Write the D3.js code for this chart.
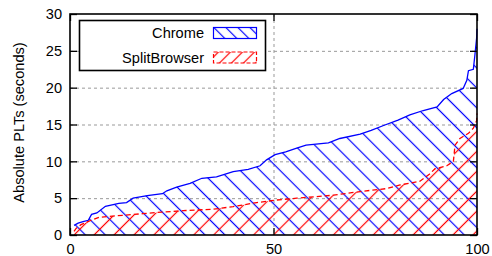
<!DOCTYPE html>
<html><head><meta charset="utf-8">
<script src="https://cdn.jsdelivr.net/npm/d3@7"></script>
<style>body{margin:0;background:#fff} text{font-family:"Liberation Sans",Arial,sans-serif;fill:#000}</style>
</head><body><svg id="c" width="492" height="256"></svg>
<script>
const xTicks = [0, 50, 100];
const yTicks = [0, 5, 10, 15, 20, 25, 30];
const gridY = [5, 10, 15, 20, 25];
const gridX = [50];
const seriesNames = ["Chrome", "SplitBrowser"];
const yLabel = "Absolute PLTs (seconds)";

const chromeX = [1, 2, 3.2, 4.5, 5.3, 6.6, 8.7, 12, 13.9, 15.5, 19, 22.7, 23.8, 26.2, 29.5, 32.4, 36, 40.1, 43.8, 46.7, 48.3, 50.4, 53, 55.7, 58, 63.5, 66.3, 71.3, 74, 77.2, 80.6, 83.5, 86.8, 90.2, 91.8, 93.8, 96.6, 97.5, 97.9, 99.1, 99.5, 99.9, 100];
const chromeY = [1.3, 1.6, 1.8, 2.0, 2.8, 3.0, 3.9, 4.3, 4.4, 5.0, 5.35, 5.6, 6.0, 6.5, 7.0, 7.7, 7.9, 8.6, 8.9, 9.4, 10.2, 10.9, 11.3, 11.8, 12.2, 12.5, 13.1, 13.7, 14.2, 14.9, 15.6, 16.3, 16.9, 17.4, 18.4, 19.2, 19.9, 21.0, 22.3, 22.5, 24.5, 26.7, 28];

const splitX = [1, 1.5, 2.7, 5.2, 7.2, 11.3, 17.9, 22.5, 27.8, 35.2, 40.1, 45.9, 50.8, 55.7, 60.2, 64.7, 71.3, 77.8, 81.1, 86, 88.2, 89.7, 92.6, 94.2, 94.6, 95.8, 97.9, 99.1, 99.9, 100];
const splitY = [0.5, 0.9, 1.4, 2.0, 2.4, 2.6, 2.9, 3.1, 3.3, 3.5, 3.85, 4.4, 4.75, 5.0, 5.2, 5.4, 5.9, 6.3, 6.8, 7.3, 8.2, 9.0, 9.4, 10.0, 12.2, 13.1, 13.8, 14.5, 15.5, 16.5];

const L = 70, R = 477, T = 14, B = 235;
const FS = "14.6px";
const svg = d3.select("#c");
const x = d3.scaleLinear().domain([0, 100]).range([L, R]);
const y = d3.scaleLinear().domain([0, 30]).range([B, T]);

const defs = svg.append("defs");
function hatch(id, color, angle, size) {
  const p = defs.append("pattern").attr("id", id).attr("patternUnits", "userSpaceOnUse")
    .attr("width", size).attr("height", size).attr("patternTransform", `rotate(${angle})`);
  p.append("line").attr("x1", size / 2).attr("x2", size / 2).attr("y1", -1).attr("y2", size + 1)
    .attr("stroke", color).attr("stroke-width", 1.2);
}
hatch("hb", "#0000ff", -45, 14.1);
hatch("hr", "#ff0000", 45, 14.1);
hatch("hbL", "#0000ff", -45, 8.5);
hatch("hrL", "#ff0000", 45, 8.5);

// grid
const g = svg.append("g");
g.selectAll(".gy").data(gridY).join("line")
  .attr("x1", L).attr("x2", R).attr("y1", d => y(d) + 0.5).attr("y2", d => y(d) + 0.5)
  .attr("stroke", "#999").attr("stroke-dasharray", "3,3");
g.selectAll(".gx").data(gridX).join("line")
  .attr("y1", T).attr("y2", B).attr("x1", d => x(d) + 0.5).attr("x2", d => x(d) + 0.5)
  .attr("stroke", "#999").attr("stroke-dasharray", "3,3");

const chrome = chromeX.map((v, i) => [v, chromeY[i]]);
const split = splitX.map((v, i) => [v, splitY[i]]);
const area = d3.area().x(d => x(d[0])).y0(y(0)).y1(d => y(d[1]));
const line = d3.line().x(d => x(d[0])).y(d => y(d[1]));

svg.append("path").attr("d", area(chrome)).attr("fill", "url(#hb)");
svg.append("path").attr("d", area(split)).attr("fill", "url(#hr)");
svg.append("path").attr("d", line(chrome)).attr("fill", "none").attr("stroke", "#0000ff").attr("stroke-width", 1.3);
svg.append("path").attr("d", line(split)).attr("fill", "none").attr("stroke", "#ff0000").attr("stroke-width", 1.3).attr("stroke-dasharray", "5,3");

// axes
function styleAxis(sel) {
  sel.select(".domain").remove();
  sel.selectAll("text").style("font-size", FS).style("font-family", "'Liberation Sans',Arial,sans-serif");
  sel.selectAll("line").attr("stroke", "#000").attr("stroke-width", 1.3);
}
svg.append("g").attr("transform", `translate(${L},0)`)
  .call(d3.axisLeft(y).tickValues(yTicks).tickSize(-7).tickPadding(8)).call(styleAxis);
svg.append("g").attr("transform", `translate(${R},0)`)
  .call(d3.axisRight(y).tickValues(yTicks).tickSize(-7).tickFormat("")).call(styleAxis);
svg.append("g").attr("transform", `translate(0,${B})`)
  .call(d3.axisBottom(x).tickValues(xTicks).tickSize(-7).tickPadding(9)).call(styleAxis);
svg.append("g").attr("transform", `translate(0,${T})`)
  .call(d3.axisTop(x).tickValues(xTicks).tickSize(-7).tickFormat("")).call(styleAxis);

svg.append("rect").attr("x", L).attr("y", T).attr("width", R - L).attr("height", B - T)
  .attr("fill", "none").attr("stroke", "#000").attr("stroke-width", 1.6);

svg.append("text").attr("transform", `translate(24,${(T + B) / 2 - 2}) rotate(-90)`)
  .attr("text-anchor", "middle").style("font-size", FS).text(yLabel);

// legend
const lg = svg.append("g");
lg.append("rect").attr("x", 79.5).attr("y", 20.5).attr("width", 186).attr("height", 50)
  .attr("fill", "#fff").attr("stroke", "#000").attr("stroke-width", 1.6);
const legendFill = ["url(#hbL)", "url(#hrL)"];
const legendColor = ["#0000ff", "#ff0000"];
const legendDash = [null, "4,2"];
seriesNames.forEach((n, i) => {
  const yy = 33 + i * 24.5;
  lg.append("text").attr("x", 204).attr("y", yy + 5).attr("text-anchor", "end").style("font-size", FS).text(n);
  lg.append("rect").attr("x", 213.5).attr("y", yy - 5.5).attr("width", 43).attr("height", 11)
    .attr("fill", legendFill[i]).attr("stroke", legendColor[i]).attr("stroke-width", 1.2)
    .attr("stroke-dasharray", legendDash[i]);
});
</script></body></html>
